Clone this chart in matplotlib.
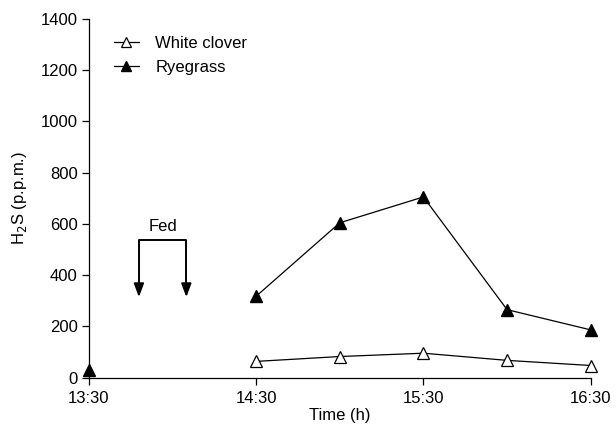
import matplotlib.pyplot as plt

# sampling times and H2S readings (p.p.m.)
times = ["14:30", "15:00", "15:30", "16:00", "16:30"]
white_clover = [63, 82, 95, 67, 47]
ryegrass = [317, 604, 705, 265, 186]

# baseline reading before feeding
base_time = "13:30"
base_ryegrass = 30

# feeding period marked by the arrows
fed_times = ["13:48", "14:05"]
xtick_labels = ["13:30", "14:30", "15:30", "16:30"]


def to_hours(t):
    h, m = t.split(":")
    return int(h) + int(m) / 60.0


plt.rcParams['font.family'] = ['Liberation Sans', 'DejaVu Sans']
fs = 12

fig = plt.figure(figsize=(6.16, 4.30), dpi=100)
ax = fig.add_axes([0.144, 0.122, 0.815, 0.834])

x = [to_hours(t) for t in times]
ax.plot(x, white_clover, color='black', lw=0.9, marker='^', ms=8,
        mfc='white', mec='black', mew=0.9, label="White clover", clip_on=False)
ax.plot(x, ryegrass, color='black', lw=0.9, marker='^', ms=8,
        mfc='black', mec='black', label="Ryegrass", clip_on=False)
ax.plot([to_hours(base_time)], [base_ryegrass], ls='none', marker='^', ms=8,
        mfc='black', mec='black', clip_on=False, zorder=5)

# "Fed" bracket with arrows
fx = [to_hours(t) for t in fed_times]
ax.plot([fx[0], fx[0], fx[1], fx[1]], [340, 536, 536, 340], color='black', lw=1.4)
for xx in fx:
    ax.annotate("", xy=(xx, 314), xytext=(xx, 360),
                arrowprops=dict(arrowstyle='-|>,head_width=0.3,head_length=0.8',
                                color='black', lw=1.4, shrinkA=0, shrinkB=0))
ax.text((fx[0] + fx[1]) / 2, 560, "Fed", ha='center', va='bottom', fontsize=fs)

ax.set_xlim(13.5, 16.5)
ax.set_ylim(0, 1400)
ax.set_xticks([to_hours(t) for t in xtick_labels])
ax.set_xticklabels(xtick_labels)
ax.set_yticks(range(0, 1401, 200))
ax.tick_params(labelsize=fs, length=5, width=0.9, direction='out', pad=3)
ax.tick_params(axis='x', pad=5)
ax.spines['top'].set_visible(False)
ax.spines['right'].set_visible(False)
ax.spines['left'].set_linewidth(0.9)
ax.spines['bottom'].set_linewidth(0.9)

ax.set_xlabel("Time (h)", fontsize=fs, labelpad=1)
ax.set_ylabel("H$_2$S (p.p.m.)", fontsize=fs, labelpad=8)

ax.legend(loc='upper left', bbox_to_anchor=(0.02, 0.995), frameon=False,
          fontsize=fs, handlelength=1.5, handletextpad=1.0, labelspacing=0.55,
          markerscale=0.85)

plt.savefig("out.png", dpi=100)
